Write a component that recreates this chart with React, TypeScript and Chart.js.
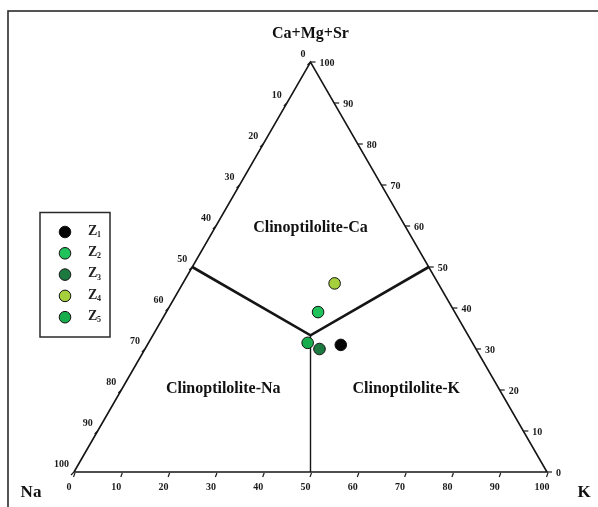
import React, { useEffect, useRef } from 'react';
import { Chart, registerables } from 'chart.js';

Chart.register(...registerables);

// ---- data (ternary compositions, %) ----
const seriesNames = ['Z', 'Z', 'Z', 'Z', 'Z'];
const seriesSubscripts = ['1', '2', '3', '4', '5'];
const caMgSrValues = [31, 39, 30, 46, 31.5];
const naValues = [28.1, 28.9, 33.1, 21.9, 34.85];
const kValues = [40.9, 32.1, 36.9, 32.1, 33.65];
const seriesColors = ['#050505', '#20c25c', '#1c7a40', '#a6cf3e', '#18ad4c'];

const tickValues = [0, 10, 20, 30, 40, 50, 60, 70, 80, 90, 100];
const regionNames = ['Clinoptilolite-Ca', 'Clinoptilolite-Na', 'Clinoptilolite-K'];
const apexNames = ['Ca+Mg+Sr', 'Na', 'K'];

// field boundaries (Ca, Na, K)
const boundaryCa = [50, 100 / 3, 50];
const boundaryNa = [50, 100 / 3, 0];
const boundaryK = [0, 100 / 3, 50];
const stemCa = [100 / 3, 0];
const stemNa = [100 / 3, 50];
const stemK = [100 / 3, 50];

const H = Math.sqrt(3) / 2;
const toXY = (ca: number, na: number, k: number) => ({ x: k + ca / 2, y: ca * H });

const SERIF = '"Liberation Serif", "DejaVu Serif", serif';

const decorPlugin = {
  id: 'ternaryDecor',
  beforeDraw(chart: any) {
    const ctx = chart.ctx;
    ctx.save();
    ctx.strokeStyle = '#2a2a2a';
    ctx.lineWidth = 1.6;
    ctx.strokeRect(8, 11, 600, 510);
    ctx.restore();
  },
  afterDraw(chart: any) {
    const ctx = chart.ctx;
    const xs = chart.scales.x;
    const ys = chart.scales.y;
    const P = (ca: number, na: number, k: number) => {
      const p = toXY(ca, na, k);
      return [xs.getPixelForValue(p.x), ys.getPixelForValue(p.y)];
    };
    ctx.save();
    ctx.strokeStyle = '#1a1a1a';
    ctx.fillStyle = '#1a1a1a';
    ctx.lineWidth = 1.2;
    ctx.font = `bold 10px ${SERIF}`;
    ctx.textBaseline = 'middle';
    tickValues.forEach((v) => {
      // bottom edge (x reading)
      let [bx, by] = P(0, 100 - v, v);
      ctx.beginPath();
      ctx.moveTo(bx + 1, by + 1);
      ctx.lineTo(bx - 0.5, by + 5);
      ctx.stroke();
      ctx.textAlign = 'center';
      ctx.fillText(String(v), bx - 5, by + 15);
      // left edge (Na: 0 at apex, 100 at left corner)
      let [lx, ly] = P(100 - v, v, 0);
      ctx.beginPath();
      ctx.moveTo(lx, ly);
      ctx.lineTo(lx - 3, ly + 3);
      ctx.stroke();
      ctx.textAlign = 'right';
      ctx.fillText(String(v), lx - 5, ly - 8);
      // right edge (Ca: 0 at right corner, 100 at apex)
      let [rx, ry] = P(v, 0, 100 - v);
      ctx.beginPath();
      ctx.moveTo(rx, ry);
      ctx.lineTo(rx + 5, ry);
      ctx.stroke();
      ctx.textAlign = 'left';
      ctx.fillText(String(v), rx + 9, ry + 1);
    });

    // apex / corner titles
    ctx.fillStyle = '#111';
    ctx.textAlign = 'center';
    const [ax, ay] = P(100, 0, 0);
    ctx.font = `bold 16px ${SERIF}`;
    ctx.fillText(apexNames[0], ax, ay - 28);
    ctx.font = `bold 17px ${SERIF}`;
    ctx.fillText(apexNames[1], 31, 493);
    ctx.fillText(apexNames[2], 584, 493);

    // region names
    ctx.font = `bold 16px ${SERIF}`;
    const rc = P(59.6, 20.2, 20.2);
    ctx.fillText(regionNames[0], rc[0], rc[1]);
    const rn = P(20.3, 58.3, 21.4);
    ctx.fillText(regionNames[1], rn[0], rn[1]);
    const rk = P(20.3, 19.6, 60.1);
    ctx.fillText(regionNames[2], rk[0], rk[1]);

    // legend box
    ctx.strokeStyle = '#2a2a2a';
    ctx.lineWidth = 1.5;
    ctx.strokeRect(40, 212.5, 70, 124.5);
    seriesNames.forEach((name, i) => {
      const cy = 232 + i * 21.3;
      ctx.beginPath();
      ctx.arc(65, cy, 5.8, 0, Math.PI * 2);
      ctx.fillStyle = seriesColors[i];
      ctx.fill();
      ctx.lineWidth = 1;
      ctx.strokeStyle = '#111';
      ctx.stroke();
      ctx.fillStyle = '#222';
      ctx.textAlign = 'left';
      ctx.font = `bold 14px ${SERIF}`;
      ctx.fillText(name, 88, cy - 1);
      ctx.font = `bold 8px ${SERIF}`;
      ctx.fillText(seriesSubscripts[i], 97, cy + 3);
    });
    ctx.restore();
  },
};

export default function App() {
  const ref = useRef<HTMLCanvasElement>(null);
  useEffect(() => {
    if (!ref.current) return;
    const pointSets = seriesNames.map((n, i) => ({
      type: 'scatter' as const,
      label: n + seriesSubscripts[i],
      data: [toXY(caMgSrValues[i], naValues[i], kValues[i])],
      backgroundColor: seriesColors[i],
      borderColor: '#111',
      borderWidth: 1,
      pointRadius: 5.8,
      clip: false,
    }));
    const lineSet = (data: any[], width: number) => ({
      type: 'scatter' as const,
      label: '',
      data,
      showLine: true,
      borderColor: '#151515',
      borderWidth: width,
      pointRadius: 0,
      fill: false,
      clip: false,
    });
    const triangle = [toXY(0, 100, 0), toXY(0, 0, 100), toXY(100, 0, 0), toXY(0, 100, 0)];
    const boundary = boundaryCa.map((c, i) => toXY(c, boundaryNa[i], boundaryK[i]));
    const stem = stemCa.map((c, i) => toXY(c, stemNa[i], stemK[i]));
    const chart = new Chart(ref.current, {
      type: 'scatter',
      data: {
        datasets: [
          ...pointSets,
          lineSet(boundary, 2.6),
          lineSet(stem, 1.4),
          lineSet(triangle, 1.6),
        ] as any,
      },
      options: {
        animation: false,
        responsive: false,
        devicePixelRatio: 1,
        layout: { padding: { left: 74, right: 51, top: 62, bottom: 35 } },
        scales: {
          x: { type: 'linear', min: 0, max: 100, display: false },
          y: { type: 'linear', min: 0, max: 100 * H, display: false },
        },
        plugins: {
          legend: { display: false },
          tooltip: { enabled: false },
        },
      },
      plugins: [decorPlugin],
    });
    return () => chart.destroy();
  }, []);
  return (
    <div style={{ position: 'fixed', left: 0, top: 0, width: 598, height: 507, background: '#fff' }}>
      <canvas ref={ref} width={598} height={507} />
    </div>
  );
}
